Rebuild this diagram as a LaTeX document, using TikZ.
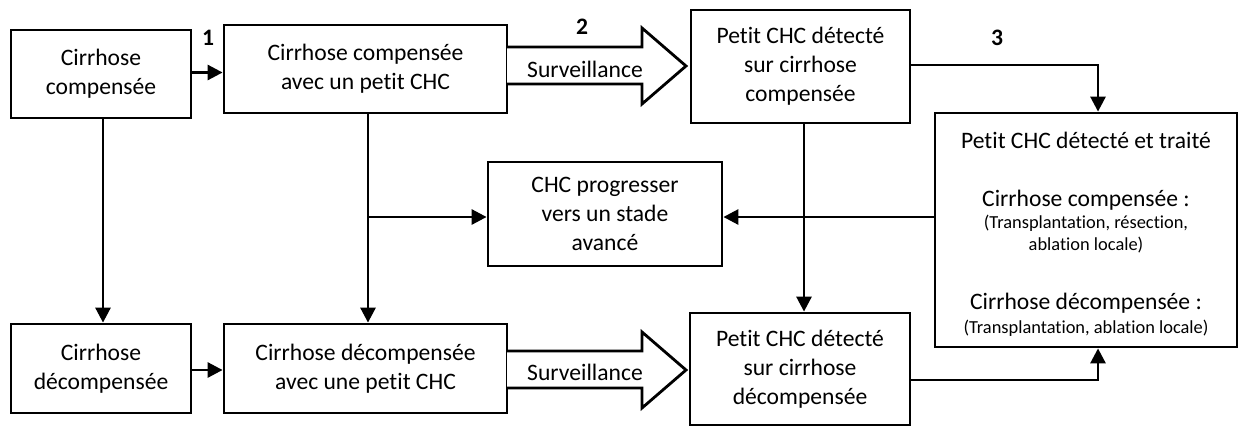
\documentclass[tikz,border=0pt]{standalone}
\usepackage{fontspec}
\setmainfont{Carlito}[RawFeature={-liga;-clig;-dlig;-calt}]
\usetikzlibrary{arrows.meta}
\begin{document}
\begin{tikzpicture}[x=0.5pt,y=-0.5pt,
 box/.style={draw,line width=1.4pt,inner sep=0pt,align=center,font=\fontsize{11.8}{14.6}\selectfont},
 txt/.style={inner sep=0pt,align=center,font=\fontsize{11.8}{14.6}\selectfont},
 small/.style={inner sep=0pt,align=center,font=\fontsize{9.2}{11}\selectfont},
 num/.style={inner sep=0pt,font=\fontsize{11.8}{14}\selectfont\bfseries},
 link/.style={line width=1.4pt},
 arr/.style={link,-{Triangle[length=7.5pt,width=7.5pt]}},
 fat/.style={draw,line width=1.4pt,fill=white,line join=miter}]
\useasboundingbox (0,0) rectangle (1240,428);
% boxes
\node[box,minimum width=90pt,minimum height=44pt] (A) at (101,74) {Cirrhose\\compensée};
\node[box,minimum width=141.5pt,minimum height=44pt] (B) at (365.5,69) {Cirrhose compensée\\avec un petit CHC};
\node[box,minimum width=109.5pt,minimum height=56.5pt] (C) at (800.5,66.5) {Petit CHC détecté\\sur cirrhose\\compensée};
\node[box,minimum width=117pt,minimum height=52pt] (E) at (605,214) {CHC progresser\\vers un stade\\avancé};
\node[box,minimum width=90pt,minimum height=44.5pt] (F) at (101,368.5) {Cirrhose\\décompensée};
\node[box,minimum width=141.5pt,minimum height=44.5pt] (G) at (365.5,368.5) {Cirrhose décompensée\\avec une petit CHC};
\node[box,minimum width=110pt,minimum height=56pt] (C2) at (800,369) {Petit CHC détecté\\sur cirrhose\\décompensée};
\node[box,minimum width=151pt,minimum height=117pt] (D) at (1086,230) {};
% text in D
\node[txt] (D1) at (1086,140) {Petit CHC détecté et traité};
\node[txt] (D2) at (1086,200) {Cirrhose compensée :};
\node[small] (D3) at (1086,223) {(Transplantation, résection,};
\node[small] (D4) at (1086,245) {ablation locale)};
\node[txt] (D5) at (1086,303) {Cirrhose décompensée :};
\node[small] (D6) at (1086,328) {(Transplantation, ablation locale)};
% numbers
\node[num] (n1) at (208,38) {1};
\node[num] (n2) at (582,27) {2};
\node[num] (n3) at (997,38) {3};
% big arrows
\draw[fat] (507,47) -- (642,47) -- (642,28) -- (686,66) -- (642,104) -- (642,84) -- (507,84);
\node[txt] (S1) at (585,69) {Surveillance};
\draw[fat] (507,351) -- (642,351) -- (642,332) -- (686,370) -- (642,408) -- (642,388) -- (507,388);
\node[txt] (S2) at (585,372) {Surveillance};
% connectors
\draw[arr] ([yshift=0.75pt]A.east) -- ([yshift=0.75pt]A.east -| B.west);
\draw[arr] ([xshift=1pt]A.south) -- ([xshift=1pt]A.south |- F.north);
\draw[arr] ([yshift=-0.75pt]F.east) -- ([yshift=-0.75pt]F.east -| G.west);
\draw[arr] ([xshift=1.25pt]B.south) -- ([xshift=1.25pt]G.north);
\draw[arr] ([xshift=1.25pt]B.south |- 0,217) -- ([yshift=-1.5pt]E.west);
\draw[arr] (D.west |- 0,217) -- ([yshift=-1.5pt]E.east);
\draw[arr] ([xshift=1.75pt]C.south) -- ([xshift=1.75pt]C.south |- C2.north);
\draw[arr] ([yshift=0.75pt]C.east) -| ([xshift=6pt]D.north);
\draw[arr] ([yshift=-5.5pt]C2.east) -| ([xshift=6pt]D.south);
\end{tikzpicture}
\end{document}
